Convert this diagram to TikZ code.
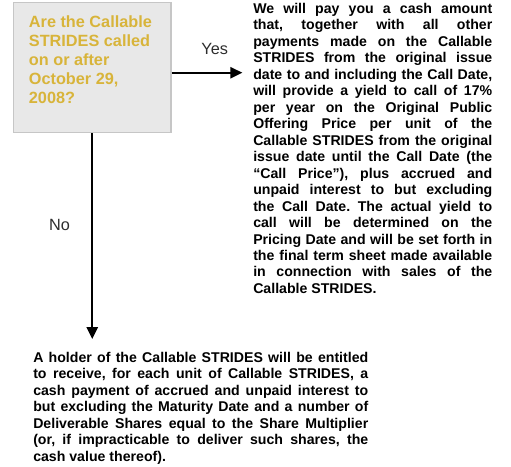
\documentclass[tikz,border=0pt]{standalone}
\usepackage{fontspec}
\setmainfont{Liberation Sans}
\usetikzlibrary{arrows.meta, positioning}
\definecolor{boxfill}{RGB}{232,232,232}
\definecolor{boxline}{RGB}{198,198,198}
\definecolor{askgold}{RGB}{216,180,58}
\definecolor{labgray}{RGB}{45,45,45}
\frenchspacing

\begin{document}
\begin{tikzpicture}[x=0.75pt, y=-0.75pt,
  question/.style = {draw=boxline, line width=1.1pt, fill=boxfill, anchor=north west, inner xsep=11.4pt, inner ysep=9.75pt, font=\fontsize{12.2}{14.25}\selectfont\bfseries, text=askgold},
  answer/.style = {anchor=north west, inner sep=0pt, align=justify, font=\fontsize{10.6}{12.35}\selectfont\bfseries},
  link/.style = {-{Triangle[length=9pt, width=8.5pt]}, line width=1.3pt},
  choice/.style = {font=\fontsize{12.2}{14}\selectfont, text=labgray}]
\useasboundingbox (0,0) rectangle (511,467);

\node[question] (q) at (13,2) {\parbox[t][78pt][t]{95pt}{Are the Callable\\ STRIDES called\\ on or after\\ October 29,\\ 2008?}};

\node[answer, text width=179.25pt] (yes) at (253,3) {We will pay you a cash amount\linebreak
that, together with all other\linebreak
payments made on the Callable\linebreak
STRIDES from the original issue\linebreak
date to and including the Call Date,\linebreak
will provide a yield to call of 17\%\linebreak
per year on the Original Public\linebreak
Offering Price per unit of the\linebreak
Callable STRIDES from the original\linebreak
issue date until the Call Date (the\linebreak
“Call Price”), plus accrued and\linebreak
unpaid interest to but excluding\linebreak
the Call Date. The actual yield to\linebreak
call will be determined on the\linebreak
Pricing Date and will be set forth in\linebreak
the final term sheet made available\linebreak
in connection with sales of the\linebreak
Callable STRIDES.};

\node[answer, text width=251.25pt] (no) at (33,352) {A holder of the Callable STRIDES will be entitled\linebreak
to receive, for each unit of Callable STRIDES, a\linebreak
cash payment of accrued and unpaid interest to\linebreak
but excluding the Maturity Date and a number of\linebreak
Deliverable Shares equal to the Share Multiplier\linebreak
(or, if impracticable to deliver such shares, the\linebreak
cash value thereof).};

\draw[link, shorten >=8pt] ([yshift=-3.75pt]q.east) -- node[choice, pos=0.53, yshift=18pt] {Yes} ([yshift=-3.75pt]q.east -| yes.west);
\draw[link, shorten >=9.75pt] (q.south) -- node[choice, pos=0.42, xshift=-24.5pt] {No} (q.south |- no.north);
\end{tikzpicture}
\end{document}
